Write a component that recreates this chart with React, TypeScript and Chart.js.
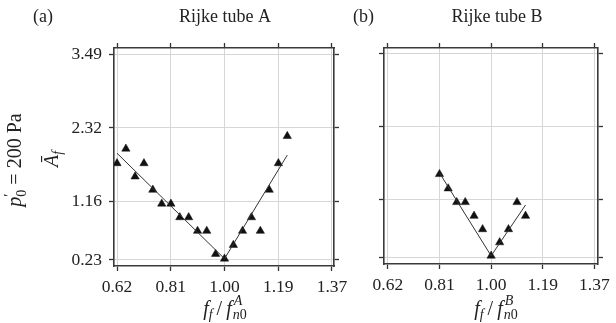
import React, { useEffect, useRef } from 'react';
import { Chart, registerables } from 'chart.js';
Chart.register(...registerables);

// ---- data ----
const X_TICKS = [0.625, 0.8125, 1.0, 1.1875, 1.375];
const X_TICK_LABELS = ['0.62', '0.81', '1.00', '1.19', '1.37'];
const Y_TICKS = [0.23, 1.16, 2.32, 3.49];
const Y_TICK_LABELS = ['0.23', '1.16', '2.32', '3.49'];

const A_FREQ = [0.625, 0.656, 0.688, 0.719, 0.75, 0.781, 0.813, 0.844, 0.875, 0.906, 0.938, 0.969, 1.0, 1.031, 1.063, 1.094, 1.125, 1.156, 1.188, 1.219];
const A_AMP = [1.76, 1.99, 1.55, 1.76, 1.34, 1.12, 1.12, 0.905, 0.905, 0.69, 0.69, 0.325, 0.25, 0.467, 0.69, 0.905, 0.69, 1.34, 1.76, 2.19];
const A_FIT_LEFT_X = [0.625, 1.0];
const A_FIT_LEFT_Y = [1.92, 0.25];
const A_FIT_RIGHT_X = [1.0, 1.219];
const A_FIT_RIGHT_Y = [0.25, 1.89];

const B_FREQ = [0.8125, 0.844, 0.875, 0.906, 0.938, 0.969, 1.0, 1.031, 1.063, 1.094, 1.125];
const B_AMP = [1.56, 1.33, 1.11, 1.11, 0.89, 0.675, 0.25, 0.465, 0.675, 1.11, 0.89];
const B_FIT_LEFT_X = [0.8125, 1.0];
const B_FIT_LEFT_Y = [1.58, 0.25];
const B_FIT_RIGHT_X = [1.0, 1.125];
const B_FIT_RIGHT_Y = [0.25, 1.065];

const SERIF = "'Liberation Serif', 'Times New Roman', serif";
const INK = '#222';

type Run = { t: string; it?: boolean; sz: number; dy?: number; dx?: number };
type Item = Run | Run[];

function fontOf(r: Run) {
  return `${r.it ? 'italic ' : ''}${r.sz}px ${SERIF}`;
}
function itemWidth(ctx: CanvasRenderingContext2D, it: Item) {
  const runs = Array.isArray(it) ? it : [it];
  let w = 0;
  for (const r of runs) {
    ctx.font = fontOf(r);
    w = Math.max(w, (r.dx || 0) + ctx.measureText(r.t).width);
  }
  return w;
}
function drawMath(ctx: CanvasRenderingContext2D, items: Item[], cx: number, cy: number, rotate: boolean, base: number) {
  ctx.save();
  ctx.translate(cx, cy);
  if (rotate) ctx.rotate(-Math.PI / 2);
  ctx.fillStyle = INK;
  ctx.textBaseline = 'alphabetic';
  ctx.textAlign = 'left';
  const total = items.reduce((s, it) => s + itemWidth(ctx, it), 0);
  let x = -total / 2;
  const by = base * 0.33;
  for (const it of items) {
    const runs = Array.isArray(it) ? it : [it];
    const w = itemWidth(ctx, it);
    for (const r of runs) {
      ctx.font = fontOf(r);
      ctx.fillText(r.t, x + (r.dx || 0), by + (r.dy || 0));
    }
    x += w;
  }
  ctx.restore();
}
function drawPlain(ctx: CanvasRenderingContext2D, t: string, x: number, y: number, align: CanvasTextAlign, size: number) {
  ctx.save();
  ctx.font = `${size}px ${SERIF}`;
  ctx.fillStyle = INK;
  ctx.textAlign = align;
  ctx.textBaseline = 'middle';
  ctx.fillText(t, x, y);
  ctx.restore();
}

type PanelSpec = {
  canvasLeft: number;
  canvasWidth: number;
  yWidth: number;
  xHeight: number;
  padRight: number;
  xMin: number; xMax: number; yMin: number; yMax: number;
  showYLabels: boolean;
  freq: number[]; amp: number[];
  fits: { x: number[]; y: number[] }[];
  letter: string; letterX: number;
  title: string; titleX: number;
  sup: string; xTitleX: number;
  extraY: boolean;
};

const tickFont = { family: SERIF, size: 17.5 };

function makeAxis(horizontal: boolean, primary: boolean, showLabels: boolean, min: number, max: number, size: number, position: string) {
  const ticks = horizontal ? X_TICKS : Y_TICKS;
  const labels = horizontal ? X_TICK_LABELS : Y_TICK_LABELS;
  return {
    type: 'linear',
    position,
    min,
    max,
    afterBuildTicks: (s: any) => {
      s.ticks = ticks.map((v) => ({ value: v }));
    },
    ticks: {
      display: showLabels,
      autoSkip: false,
      maxRotation: 0,
      callback: (_v: any, i: number) => labels[i],
      font: tickFont,
      color: INK,
      padding: horizontal ? 6 : 7,
    },
    grid: {
      display: true,
      drawOnChartArea: primary,
      drawTicks: true,
      tickLength: 5,
      color: '#d6d6d6',
      lineWidth: 1,
      tickColor: '#333',
      tickWidth: 1.3,
    },
    border: { display: true, color: '#3a3a3a', width: 1.6 },
    afterFit: (s: any) => {
      if (horizontal) s.height = size;
      else s.width = size;
    },
  };
}

function Panel({ spec }: { spec: PanelSpec }) {
  const ref = useRef<HTMLCanvasElement>(null);
  useEffect(() => {
    const canvas = ref.current!;
    const datasets: any[] = [];
    spec.fits.forEach((f) => {
      datasets.push({
        type: 'line',
        data: f.x.map((x, i) => ({ x, y: f.y[i] })),
        borderColor: '#333',
        borderWidth: 1,
        pointRadius: 0,
        showLine: true,
        fill: false,
      });
    });
    datasets.push({
      type: 'scatter',
      data: spec.freq.map((x, i) => ({ x, y: spec.amp[i] })),
      pointStyle: 'triangle',
      pointRadius: 4.8,
      backgroundColor: '#111',
      borderColor: '#111',
      borderWidth: 0.5,
    });
    const off = spec.canvasLeft;
    const textPlugin = {
      id: 'texts',
      afterDraw(chart: any) {
        const ctx = chart.ctx as CanvasRenderingContext2D;
        drawPlain(ctx, spec.letter, spec.letterX - off, 17, 'left', 18);
        drawPlain(ctx, spec.title, spec.titleX - off, 17, 'center', 18);
        // x title: f_f / f^X_n0
        drawMath(
          ctx,
          [
            { t: 'f', it: true, sz: 20 },
            { t: 'f', it: true, sz: 14, dy: 4 },
            { t: '\u2009/\u2009', sz: 20 },
            { t: 'f', it: true, sz: 20 },
            { t: '\u200a', sz: 14 },
            [
              { t: spec.sup, it: true, sz: 14, dy: -10, dx: 1 },
              { t: 'n', it: true, sz: 14, dy: 4 },
              { t: '0', sz: 14, dy: 4, dx: 7 },
            ],
          ],
          spec.xTitleX - off,
          308,
          false,
          20
        );
        if (spec.extraY) {
          drawMath(
            ctx,
            [
              { t: 'Ā', it: true, sz: 20 },
              { t: 'f', it: true, sz: 14, dy: 4 },
            ],
            51 - off,
            159,
            true,
            20
          );
          drawMath(
            ctx,
            [
              { t: 'p', it: true, sz: 20 },
              [
                { t: '′', sz: 15, dy: -7 },
                { t: '0', sz: 14, dy: 5 },
              ],
              { t: ' = 200 Pa', sz: 20 },
            ],
            14 - off,
            160,
            true,
            20
          );
        }
      },
    };
    const chart = new Chart(canvas, {
      type: 'scatter',
      data: { datasets },
      options: {
        responsive: false,
        animation: false,
        events: [],
        layout: {
          autoPadding: false,
          padding: { left: 0, top: 42, right: spec.padRight, bottom: 0 },
        },
        plugins: { legend: { display: false }, tooltip: { enabled: false }, title: { display: false } },
        scales: {
          x: makeAxis(true, true, true, spec.xMin, spec.xMax, spec.xHeight, 'bottom'),
          x2: makeAxis(true, false, false, spec.xMin, spec.xMax, 6, 'top'),
          y: makeAxis(false, true, spec.showYLabels, spec.yMin, spec.yMax, spec.yWidth, 'left'),
          y2: makeAxis(false, false, false, spec.yMin, spec.yMax, 6, 'right'),
        } as any,
      } as any,
      plugins: [textPlugin],
    });
    return () => chart.destroy();
  }, [spec]);
  return (
    <canvas
      ref={ref}
      width={spec.canvasWidth}
      height={323}
      style={{ position: 'absolute', left: spec.canvasLeft, top: 0, width: spec.canvasWidth, height: 323 }}
    />
  );
}

const PANEL_A: PanelSpec = {
  canvasLeft: 0,
  canvasWidth: 360,
  yWidth: 114,
  xHeight: 57,
  padRight: 20,
  xMin: 0.6145, xMax: 1.382, yMin: 0.135, yMax: 3.585,
  showYLabels: true,
  freq: A_FREQ, amp: A_AMP,
  fits: [
    { x: A_FIT_LEFT_X, y: A_FIT_LEFT_Y },
    { x: A_FIT_RIGHT_X, y: A_FIT_RIGHT_Y },
  ],
  letter: '(a)', letterX: 33,
  title: 'Rijke tube A', titleX: 225,
  sup: 'A', xTitleX: 225,
  extraY: true,
};

const PANEL_B: PanelSpec = {
  canvasLeft: 300,
  canvasWidth: 316,
  yWidth: 84,
  xHeight: 59,
  padRight: 4,
  xMin: 0.611, xMax: 1.388, yMin: 0.118, yMax: 3.586,
  showYLabels: false,
  freq: B_FREQ, amp: B_AMP,
  fits: [
    { x: B_FIT_LEFT_X, y: B_FIT_LEFT_Y },
    { x: B_FIT_RIGHT_X, y: B_FIT_RIGHT_Y },
  ],
  letter: '(b)', letterX: 353,
  title: 'Rijke tube B', titleX: 497,
  sup: 'B', xTitleX: 496,
  extraY: false,
};

export default function App() {
  return (
    <div style={{ position: 'fixed', left: 0, top: 0, width: 616, height: 323, background: '#fff', overflow: 'hidden' }}>
      <Panel spec={PANEL_A} />
      <Panel spec={PANEL_B} />
    </div>
  );
}
